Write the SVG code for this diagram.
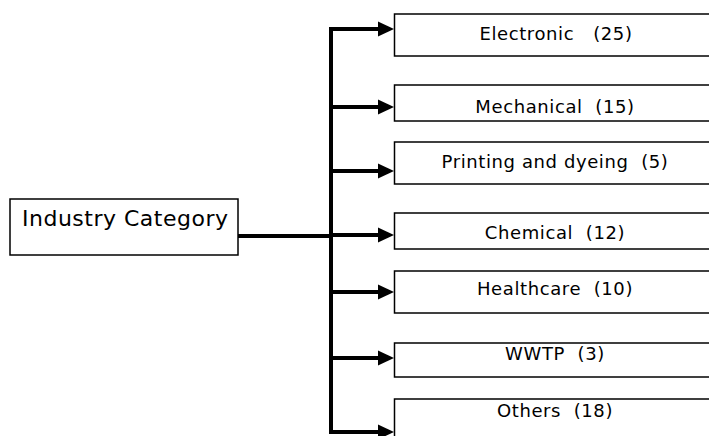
<svg xmlns="http://www.w3.org/2000/svg" width="709" height="436" viewBox="0 0 709 436">
  <style>
    .box { fill: #ffffff; stroke: #000000; stroke-width: 1.5; }
    .lbl { font-family: "DejaVu Sans", Verdana, sans-serif; font-size: 18px; letter-spacing: 0.6px; fill: #000000; text-anchor: middle; }
    .root { font-family: "DejaVu Sans", Verdana, sans-serif; font-size: 22px; letter-spacing: 0.5px; fill: #000000; }
    .wire { fill: none; stroke: #000000; stroke-width: 4; }
    .head { fill: #000000; }
  </style>
  <defs>
    <!-- arrowhead, tip at origin pointing right -->
    <path id="ah" class="head" d="M0,0 L-16,-7.5 L-16,7.5 Z"/>
  </defs>

  <rect width="709" height="436" fill="#ffffff"/>

  <g id="connectors">
    <path class="wire" d="M238,236 H331"/>
    <path class="wire" d="M331,27 V434"/>
    <path class="wire" d="M329,29 H380"/>
    <path class="wire" d="M329,107 H380"/>
    <path class="wire" d="M329,171 H380"/>
    <path class="wire" d="M331,235 H380"/>
    <path class="wire" d="M329,292 H380"/>
    <path class="wire" d="M329,358 H380"/>
    <path class="wire" d="M329,432 H380"/>
    <use href="#ah" x="394" y="29"/>
    <use href="#ah" x="394" y="107"/>
    <use href="#ah" x="394" y="171"/>
    <use href="#ah" x="394" y="235"/>
    <use href="#ah" x="394" y="292"/>
    <use href="#ah" x="394" y="358"/>
    <use href="#ah" x="394" y="432"/>
  </g>

  <g id="industry-category">
    <rect class="box" x="10" y="199" width="228" height="56"/>
    <text class="root" x="22" y="226">Industry Category</text>
  </g>

  <g id="electronic">
    <rect class="box" x="394.5" y="14" width="330" height="42"/>
    <text class="lbl" x="556" y="39.5" xml:space="preserve">Electronic   (25)</text>
  </g>

  <g id="mechanical">
    <rect class="box" x="394.5" y="85" width="330" height="36"/>
    <text class="lbl" x="555" y="112.5" xml:space="preserve">Mechanical  (15)</text>
  </g>

  <g id="printing-dyeing">
    <rect class="box" x="394.5" y="142" width="330" height="42"/>
    <text class="lbl" x="555" y="167.5" xml:space="preserve">Printing and dyeing  (5)</text>
  </g>

  <g id="chemical">
    <rect class="box" x="394.5" y="213" width="330" height="36"/>
    <text class="lbl" x="555" y="238.5" xml:space="preserve">Chemical  (12)</text>
  </g>

  <g id="healthcare">
    <rect class="box" x="394.5" y="271" width="330" height="42"/>
    <text class="lbl" x="555" y="295" xml:space="preserve">Healthcare  (10)</text>
  </g>

  <g id="wwtp">
    <rect class="box" x="394.5" y="343" width="330" height="34"/>
    <text class="lbl" x="555" y="359.5" xml:space="preserve">WWTP  (3)</text>
  </g>

  <g id="others">
    <rect class="box" x="394.5" y="399" width="330" height="50"/>
    <text class="lbl" x="555" y="416.5" xml:space="preserve">Others  (18)</text>
  </g>
</svg>
